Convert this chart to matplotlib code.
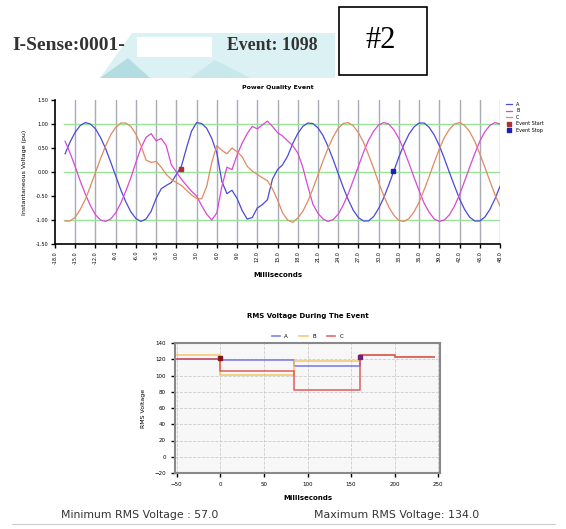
import numpy as np
import matplotlib.pyplot as plt
from matplotlib.patches import Polygon, Rectangle

W, H = 566, 529

# instantaneous voltage samples (pu), one every 0.75 ms starting at -16.5 ms
volt_a = [0.38, 0.63, 0.83, 0.97, 1.03, 1.00, 0.90, 0.72, 0.49, 0.21,
          -0.08, -0.37, -0.62, -0.83, -0.97, -1.03, -0.98, -0.82, -0.55, -0.35,
          -0.28, -0.22, -0.05, 0.12, 0.50, 0.85, 1.03, 1.01, 0.91, 0.70,
          0.40, -0.20, -0.45, -0.38, -0.55, -0.80, -0.98, -0.95, -0.75, -0.68,
          -0.58, -0.15, 0.05, 0.15, 0.33, 0.59, 0.80, 0.95, 1.02, 1.01,
          0.92, 0.76, 0.53, 0.26, -0.03, -0.32, -0.58, -0.80, -0.95, -1.02,
          -1.02, -0.93, -0.76, -0.54, -0.27, 0.02, 0.31, 0.57, 0.79, 0.94,
          1.02, 1.02, 0.93, 0.77, 0.55, 0.28, -0.01, -0.29, -0.56, -0.78,
          -0.94, -1.02, -1.02, -0.94, -0.78, -0.56, -0.30]
volt_b = [0.64, 0.39, 0.11, -0.19, -0.46, -0.70, -0.89, -1.00, -1.03, -0.98,
          -0.85, -0.65, -0.40, -0.12, 0.20, 0.50, 0.72, 0.80, 0.65, 0.70,
          0.55, 0.15, 0.00, -0.15, -0.28, -0.40, -0.50, -0.70, -0.88, -1.00,
          -0.85, -0.30, 0.10, 0.05, 0.35, 0.60, 0.80, 0.95, 0.90, 0.98,
          1.06, 0.95, 0.82, 0.75, 0.65, 0.55, 0.40, 0.10, -0.30, -0.67,
          -0.86, -0.98, -1.03, -0.99, -0.88, -0.69, -0.45, -0.17, 0.12, 0.41,
          0.66, 0.85, 0.98, 1.03, 1.00, 0.88, 0.70, 0.46, 0.18, -0.11,
          -0.39, -0.65, -0.84, -0.98, -1.03, -1.00, -0.89, -0.71, -0.47, -0.19,
          0.10, 0.38, 0.64, 0.84, 0.97, 1.03, 1.00]
volt_c = [-1.02, -1.02, -0.94, -0.78, -0.57, -0.30, -0.01, 0.28, 0.54, 0.77,
          0.93, 1.02, 1.02, 0.95, 0.79, 0.55, 0.25, 0.20, 0.22, 0.10,
          -0.05, -0.15, -0.22, -0.28, -0.38, -0.48, -0.55, -0.56, -0.30, 0.20,
          0.55, 0.45, 0.38, 0.50, 0.42, 0.32, 0.12, 0.02, -0.05, -0.12,
          -0.18, -0.35, -0.58, -0.85, -1.00, -1.05, -0.96, -0.82, -0.61, -0.35,
          -0.06, 0.23, 0.50, 0.73, 0.91, 1.01, 1.03, 0.96, 0.82, 0.62,
          0.36, 0.08, -0.22, -0.49, -0.73, -0.90, -1.01, -1.03, -0.97, -0.83,
          -0.63, -0.37, -0.09, 0.20, 0.48, 0.72, 0.89, 1.00, 1.03, 0.97,
          0.84, 0.64, 0.38, 0.10, -0.19, -0.47, -0.71]
t_ms = np.arange(len(volt_a)) * 0.75 - 16.5
event_start = (0.7, 0.06)
event_stop = (32.2, 0.02)
wave_ticks = list(range(-18, 49, 3))

# RMS steps (ms, volts)
rms_t = [-50, 0, 85, 160, 200, 245]
rms_a = [120, 119, 112, 125, 123, 123]
rms_b = [125, 101, 118, 125, 123, 123]
rms_c = [120, 106, 82, 125, 123, 123]
min_rms = 57.0
max_rms = 134.0

col_a = '#4a4ad8'
col_b = '#d848d8'
col_c = '#e08a60'


def fx(x):
    return x / W


def fy(y):
    return 1 - y / H


fig = plt.figure(figsize=(W / 100, H / 100), dpi=100, facecolor='white')

# header banner
fig.patches.append(Polygon([(fx(132), fy(33)), (fx(335), fy(33)), (fx(335), fy(78)),
                            (fx(100), fy(78))], closed=True, transform=fig.transFigure,
                           facecolor='#dcf1f3', edgecolor='none'))
fig.patches.append(Polygon([(fx(100), fy(78)), (fx(128), fy(58)), (fx(150), fy(78))],
                           closed=True, transform=fig.transFigure,
                           facecolor='#b3dde1', edgecolor='none'))
fig.patches.append(Polygon([(fx(190), fy(78)), (fx(215), fy(60)), (fx(250), fy(78))],
                           closed=True, transform=fig.transFigure,
                           facecolor='#c8e8eb', edgecolor='none'))
fig.patches.append(Rectangle((fx(137), fy(57)), fx(75), 20 / H, transform=fig.transFigure,
                             facecolor='white', edgecolor='none'))
fig.text(fx(12), fy(46), 'I-Sense:0001-', family='Liberation Serif', fontweight='bold',
         fontsize=14, va='center', color='#333333')
fig.text(fx(227), fy(46), 'Event: 1098', family='Liberation Serif', fontweight='bold',
         fontsize=12.8, va='center', color='#333333')
fig.patches.append(Rectangle((fx(339), fy(75)), fx(88), 68 / H, transform=fig.transFigure,
                             facecolor='white', edgecolor='black', lw=1.2))
fig.text(fx(381), fy(41), '#2', family='Liberation Serif', fontsize=22,
         ha='center', va='center')

# instantaneous waveform chart
ax1 = fig.add_axes([fx(55), fy(244), fx(445), 144 / H])
for tk in wave_ticks[1:]:
    ax1.axvline(tk, color='#a8aab8', lw=1.0, zorder=0)
for yv in [-1, 0, 1]:
    ax1.axhline(yv, xmin=0.02, color='#9be39b', lw=1.0, zorder=0)
ax1.plot(t_ms, volt_a, color=col_a, lw=0.9, label='A')
ax1.plot(t_ms, volt_b, color=col_b, lw=0.9, label='B')
ax1.plot(t_ms, volt_c, color=col_c, lw=0.9, label='C')
ax1.plot(*event_start, 's', color='#b03030', ms=3, label='Event Start')
ax1.plot(*event_stop, 's', color='#2020b0', ms=3, label='Event Stop')
ax1.set_xlim(-18, 48)
ax1.set_ylim(-1.5, 1.5)
ax1.set_xticks(wave_ticks)
ax1.set_xticklabels([f'{v:.1f}' for v in wave_ticks], rotation=90, fontsize=3.5)
ax1.set_yticks([-1.5, -1, -0.5, 0, 0.5, 1, 1.5])
ax1.set_yticklabels([f'{v:.2f}' for v in [-1.5, -1, -0.5, 0, 0.5, 1, 1.5]], fontsize=3.5)
ax1.tick_params(length=3, width=1, pad=2)
for s in ['top', 'right']:
    ax1.spines[s].set_visible(False)
ax1.spines['left'].set_linewidth(1.2)
ax1.spines['bottom'].set_linewidth(1.2)
ax1.set_title('Power Quality Event', fontsize=4.5, fontweight='bold', pad=8)
ax1.set_xlabel('Milliseconds', fontsize=5, fontweight='bold', labelpad=6)
ax1.set_ylabel('Instantaneous Voltage (pu)', fontsize=4.5, labelpad=6)
ax1.legend(loc='upper left', bbox_to_anchor=(1.01, 1.0), fontsize=3.5, frameon=False,
           handlelength=1.2, labelspacing=0.3, borderaxespad=0)

# RMS chart
ax2 = fig.add_axes([fx(175), fy(473), fx(265), 130 / H])
ax2.set_facecolor('#f7f7f7')
ax2.step(rms_t, rms_a, where='post', color='#6a6ae8', lw=1.2, alpha=0.85, label='A')
ax2.step(rms_t, rms_b, where='post', color='#f2c25e', lw=1.2, alpha=0.85, label='B')
ax2.step(rms_t, rms_c, where='post', color='#e05050', lw=1.2, alpha=0.85, label='C')
ax2.plot(0, 121, 's', color='#801818', ms=3)
ax2.plot(160, 123, 's', color='#702080', ms=3.5)
ax2.set_xlim(-52, 252)
ax2.set_ylim(-20, 140)
ax2.set_xticks(range(-50, 251, 50))
ax2.set_yticks(range(-20, 141, 20))
ax2.tick_params(labelsize=4, length=3, width=1)
ax2.grid(True, ls='--', color='#cccccc', lw=0.6)
for s in ax2.spines.values():
    s.set_color('#888888')
    s.set_linewidth(1.5)
ax2.set_title('RMS Voltage During The Event', fontsize=5, fontweight='bold', pad=18)
ax2.set_xlabel('Milliseconds', fontsize=5, fontweight='bold', labelpad=6)
ax2.set_ylabel('RMS Voltage', fontsize=4.5, labelpad=6)
ax2.legend(loc='lower center', bbox_to_anchor=(0.5, 1.0), ncol=3, fontsize=4,
           frameon=False, handlelength=1.5, borderaxespad=0.3)

fig.text(fx(140), fy(515), f'Minimum RMS Voltage : {min_rms:.1f}', fontsize=7.8,
         ha='center', va='center', color='#333333')
fig.text(fx(397), fy(515), f'Maximum RMS Voltage: {max_rms:.1f}', fontsize=7.9,
         ha='center', va='center', color='#333333')
fig.add_artist(plt.Line2D([fx(12), fx(555)], [fy(524), fy(524)], color='#cccccc', lw=0.8))

fig.savefig('out.png', dpi=100)
